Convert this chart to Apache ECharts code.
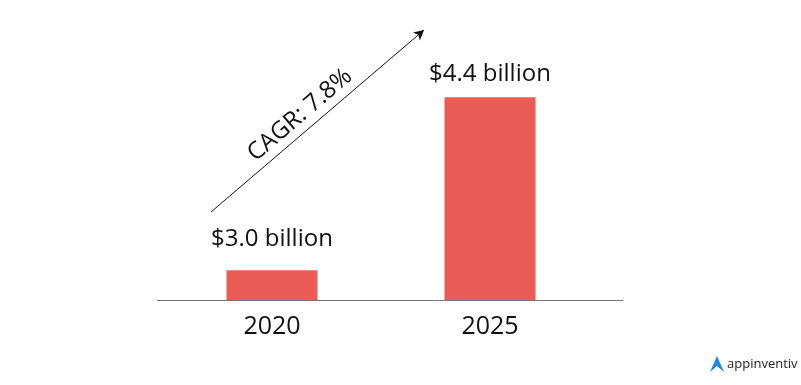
<!DOCTYPE html>
<html>
<head>
<meta charset="utf-8">
<script src="https://cdn.jsdelivr.net/npm/echarts@6/dist/echarts.min.js"></script>
<style>html,body{margin:0;padding:0;background:#fff;}#c{width:801px;height:385px;}</style>
</head>
<body>
<div id="c"></div>
<script>
var categories = ['2020', '2025'];
var marketValues = [3.0, 4.4];
var valueLabels = ['$3.0 billion', '$4.4 billion'];
var cagrText = 'CAGR: 7.8%';

var labelGaps = [19, 11];
var chart = echarts.init(document.getElementById('c'), null, {renderer: 'canvas'});
var font = '"Open Sans", sans-serif';
chart.setOption({
  animation: false,
  backgroundColor: '#ffffff',
  grid: {left: 163, right: 202, top: 23, bottom: 85},
  xAxis: {
    type: 'category',
    data: categories,
    axisLine: {show: false},
    axisTick: {show: false},
    axisLabel: {fontSize: 25, color: '#111', fontFamily: font, margin: 14}
  },
  yAxis: {
    type: 'value',
    min: 2.76,
    max: 5,
    show: false,
    splitLine: {show: false}
  },
  series: [{
    type: 'bar',
    data: marketValues.map(function (v, i) {
      return {value: v, label: {distance: labelGaps[i]}};
    }),
    barWidth: 91,
    itemStyle: {color: '#eb5c57'},
    label: {
      show: true,
      position: 'top',
      fontSize: 24,
      color: '#111',
      fontFamily: font,
      formatter: function (p) { return valueLabels[p.dataIndex]; }
    },
    markLine: {
      silent: true,
      symbol: ['none', 'arrow'],
      symbolSize: [8, 10],
      label: {show: false},
      lineStyle: {color: '#111', width: 1, type: 'solid'},
      data: [[{x: 211, y: 212}, {x: 424, y: 30}]]
    }
  }],
  graphic: [
    {type: 'line', shape: {x1: 157, y1: 300.5, x2: 623, y2: 300.5}, style: {stroke: '#777', lineWidth: 1}},
    {type: 'text', x: 300, y: 115, rotation: 40.5 * Math.PI / 180,
     style: {text: cagrText, fontSize: 24, fill: '#111', fontFamily: font, align: 'center', verticalAlign: 'middle'}},
    {type: 'polygon', shape: {points: [[710, 372], [717, 356], [724, 372], [717, 366]]},
     style: {fill: '#1e88e5'}},
    {type: 'text', x: 727, y: 364,
     style: {text: 'appinventiv', fontSize: 13, fill: '#222', fontFamily: font, verticalAlign: 'middle'}}
  ]
});
</script>
</body>
</html>
